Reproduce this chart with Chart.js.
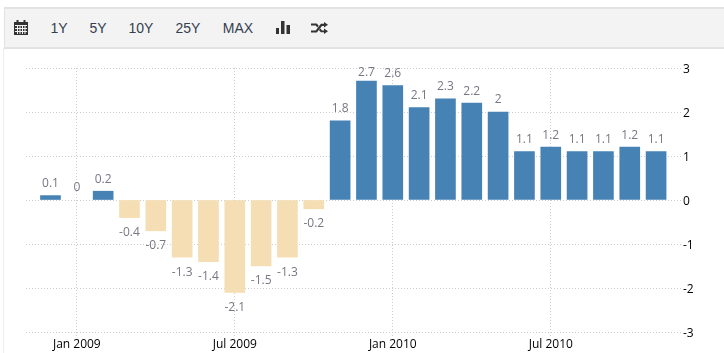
<!DOCTYPE html>
<html>
<head>
<meta charset="utf-8">
<script src="https://cdn.jsdelivr.net/npm/chart.js@4"></script>
<style>
html,body{margin:0;padding:0;background:#fff;overflow:hidden}
#wrap{position:relative;width:724px;height:353px}
#frame{position:absolute;left:3px;top:48px;width:1px;height:305px;background:#eeeeee}
#bar{position:absolute;left:4px;top:7px;width:720px;height:38px;background:#f3f3f3;border:2px solid #e2e2e2;border-right:none;border-width:2px 0 2px 1px}
.b{position:absolute;top:19px;transform:translateX(-50%);font:14px "Liberation Sans",Arial,sans-serif;line-height:18px;color:#34404f;white-space:nowrap}
svg{position:absolute}
canvas{position:absolute;left:0;top:0}
</style>
</head>
<body>
<div id="wrap">
<canvas id="c" width="724" height="353"></canvas>
<div id="frame"></div>
<div id="bar"></div>
<span class="b" style="left:59px">1Y</span>
<span class="b" style="left:98px">5Y</span>
<span class="b" style="left:141px">10Y</span>
<span class="b" style="left:188px">25Y</span>
<span class="b" style="left:238px">MAX</span>
<svg style="left:14px;top:20px" width="14" height="15" viewBox="0 0 14 15"><path fill="#333" d="M0 2h2.5V0h2v2h5V0h2v2H14v13H0z"/><path stroke="#f3f3f3" stroke-width="1" fill="none" d="M1 5.5h12M1 8.5h12M1 11.5h12M3.5 6v8M6 6v8M8.5 6v8M11 6v8"/></svg>
<svg style="left:276px;top:21px" width="14" height="13" viewBox="0 0 14 13"><path fill="#333" d="M0 7h3v6H0zM5 0h3.5v13H5zM10.5 4H14v9h-3.5z"/></svg>
<svg style="left:311px;top:22px" width="17" height="12" viewBox="0 0 17 12"><path fill="#333" d="M13 0l4 2.8L13 5.6V4h-2L5.8 10.6H0V8.4h4.7L9.9 1.8H13zM0 1.4h5.8l1.9 2.4-1.4 1.7-1.6-1.9H0zM13 6.4l4 2.8-4 2.8v-1.8H9.9L8 8.2l1.4-1.7 1.6 1.9h2z"/></svg>
</div>
<script>
const categories = ["Dec 2008","Jan 2009","Feb 2009","Mar 2009","Apr 2009","May 2009","Jun 2009","Jul 2009","Aug 2009","Sep 2009","Oct 2009","Nov 2009","Dec 2009","Jan 2010","Feb 2010","Mar 2010","Apr 2010","May 2010","Jun 2010","Jul 2010","Aug 2010","Sep 2010","Oct 2010","Nov 2010"];
const values = [0.1,0,0.2,-0.4,-0.7,-1.3,-1.4,-2.1,-1.5,-1.3,-0.2,1.8,2.7,2.6,2.1,2.3,2.2,2,1.1,1.2,1.1,1.1,1.2,1.1];
const xTickLabels = ["Jan 2009","Jul 2009","Jan 2010","Jul 2010"];
const yTicks = [-3,-2,-1,0,1,2,3];
const posColor = "#4682B4", negColor = "#F5DEB3";

const valueLabels = {
  id:"valueLabels",
  afterDatasetsDraw(chart){
    const {ctx,chartArea} = chart;
    const els = chart.getDatasetMeta(0).data;
    ctx.save();
    ctx.font = '12px "Open Sans",Arial,sans-serif';
    ctx.fillStyle = "#777783";
    ctx.textAlign = "center";
    ctx.textBaseline = "middle";
    els.forEach((el,i)=>{
      const v = values[i];
      let y = v < 0 ? el.y + 15 : el.y - 12;
      y = Math.max(y, chartArea.top + 5);
      ctx.fillText(String(v), el.x, y);
    });
    ctx.restore();
  }
};

new Chart(document.getElementById("c"),{
  type:"bar",
  data:{
    datasets:[{
      data:values.map((y,i)=>({x:i,y})),
      backgroundColor:values.map(v=>v===0?"rgba(0,0,0,0)":(v<0?negColor:posColor)),
      barThickness:20,
      borderWidth:0
    }]
  },
  plugins:[valueLabels],
  options:{
    responsive:false,
    animation:false,
    layout:{padding:{left:26,top:68,right:0,bottom:0}},
    plugins:{legend:{display:false},tooltip:{enabled:false},title:{display:false}},
    scales:{
      x:{
        type:"linear",
        offset:false,
        min:-0.93,
        max:23.984,
        afterFit(s){s.height=21;},
        afterBuildTicks(s){s.ticks=xTickLabels.map(l=>({value:categories.indexOf(l)}));},
        grid:{offset:false,color:"#cccccc",lineWidth:1,tickLength:4,tickColor:"#cccccc",drawTicks:true,
              tickBorderDash:[1,2]},
        border:{display:false,dash:[1,2]},
        ticks:{autoSkip:false,maxRotation:0,padding:1,color:"#000",
          font:{family:'"Open Sans",Arial,sans-serif',size:12},
          callback(v){return categories[v];}}
      },
      y:{
        position:"right",
        min:-3,max:3,
        afterFit(s){s.width=42;},
        afterBuildTicks(s){s.ticks=yTicks.map(value=>({value}));},
        grid:{color:"#cccccc",lineWidth:1,drawTicks:false},
        border:{display:false,dash:[1,2]},
        ticks:{padding:1,labelOffset:2,color:"#000",
          font:{family:'"Open Sans",Arial,sans-serif',size:12}}
      }
    }
  }
});
</script>
</body>
</html>
